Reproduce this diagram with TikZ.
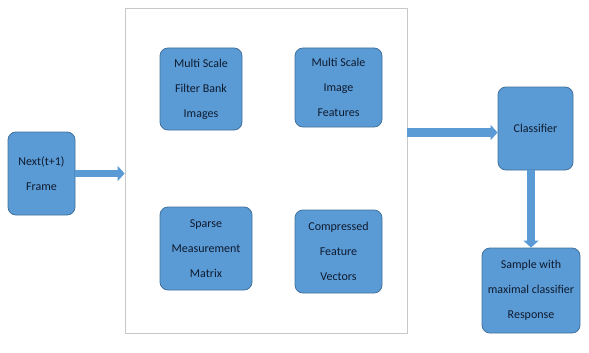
\documentclass[tikz,border=0pt]{standalone}
\usepackage{fontspec}
\setmainfont{Carlito}
\usetikzlibrary{arrows.meta}
\definecolor{boxfill}{HTML}{5B9BD5}
\definecolor{boxline}{HTML}{41719C}
\definecolor{boxtext}{HTML}{0E1A2E}
\definecolor{frameline}{HTML}{C8C8C8}
\tikzset{
  block/.style={draw=boxline, line width=0.8pt, fill=boxfill, rounded corners=8pt,
    text=boxtext, align=center, inner sep=2pt,
    font=\fontsize{12}{25}\selectfont},
  flow/.style={draw=boxfill, line width=#1,
    -{Triangle[length=7pt,width=15pt]}},
  container/.style={draw=frameline, line width=0.8pt}
}
\begin{document}
\begin{tikzpicture}[x=1pt,y=-1pt]
\useasboundingbox (0,0) rectangle (589,353);
% grouping frame for the feature stage
\node[container, minimum width=282pt, minimum height=325pt, inner sep=0pt] (stage) at (266,170.5) {};
% blocks
\node[block, minimum width=67pt, minimum height=83pt] (frame) at (41.5,173.5) {Next(t+1)\\Frame};
\node[block, minimum width=82pt, minimum height=82pt] (fbank) at (201,89) {Multi Scale\\Filter Bank\\Images};
\node[block, minimum width=87pt, minimum height=79pt] (imfeat) at (338.5,87.5) {Multi Scale\\Image\\Features};
\node[block, minimum width=92pt, minimum height=83pt] (sparse) at (206,248.5) {Sparse\\Measurement\\Matrix};
\node[block, minimum width=87pt, minimum height=83pt] (compr) at (338.5,251.5) {Compressed\\Feature\\Vectors};
\node[block, minimum width=75pt, minimum height=83pt] (classif) at (535.5,128.5) {Classifier};
\node[block, minimum width=98pt, minimum height=85pt] (sample) at (531,290.5) {Sample with\\maximal classifier\\Response};
% connectors
\draw[flow=7pt] (frame.east) -- (frame.east -| stage.west);
\draw[flow=9pt] ([yshift=-4pt]stage.east |- classif.west) -- ([yshift=-4pt]classif.west);
\draw[flow=8pt] (sample.north |- classif.south) -- (sample.north);
\end{tikzpicture}
\end{document}
